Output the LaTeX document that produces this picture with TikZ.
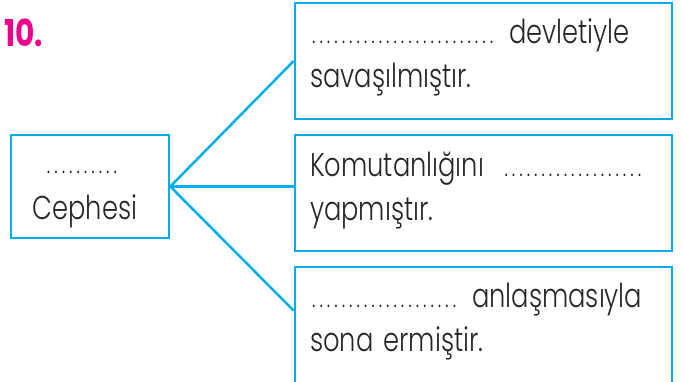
\documentclass[tikz,border=0pt]{standalone}
\usepackage{fontspec}
\setmainfont{Poppins Light}[FakeStretch=0.78]
\newfontfamily\numfont{Poppins}[FakeStretch=0.8]
\definecolor{boxblue}{RGB}{0,174,239}
\definecolor{numpink}{RGB}{236,0,140}
\newcommand\blankdots[1]{{\fontsize{24}{24}\selectfont\leaders\hbox to 7.4pt{\hss.\hss}\hskip #1pt\kern0pt}}
\tikzset{
  frame/.style={draw=boxblue, line width=2.6pt, rectangle, inner sep=0pt},
  link/.style={draw=boxblue, line width=2.5pt},
  txt/.style={anchor=base west, inner sep=0pt, font=\fontsize{33}{33}\selectfont, text=black!85},
}
\begin{document}
\begin{tikzpicture}[x=1pt,y=1pt]
\clip (0,0) rectangle (683,382);
\useasboundingbox (0,0) rectangle (683,382);
\node[anchor=base west, inner sep=0pt, text=numpink, font=\numfont\bfseries\fontsize{37}{37}\selectfont] (num) at (4,335) {10.};
\node[frame, minimum width=158pt, minimum height=103pt] (left) at (90,195.5) {};
\node[frame, minimum width=377pt, minimum height=116pt] (top) at (483.5,321) {};
\node[frame, minimum width=377pt, minimum height=116pt] (mid) at (483.5,189) {};
\node[frame, minimum width=377pt, minimum height=130pt] (bot) at (483.5,50) {};
\draw[link] (left.east) -- (top.west);
\draw[link] (left.east) -- (left.east -| mid.west);
\draw[link] (left.east) -- ([yshift=-45pt]bot.north west);
\node[txt, anchor=base] (ld) at (85,208) {\blankdots{80}};
\node[txt, anchor=base] (lc) at (85,162) {Cephesi};
\node[txt] (t1) at (310,338) {\blankdots{185}\hspace{14pt}devletiyle};
\node[txt] (t2) at (310,294) {savaşılmıştır.};
\node[txt] (m1) at (310,205) {Komutanlığını\hspace{14pt}\blankdots{148}};
\node[txt] (m2) at (310,161) {yapmıştır.};
\node[txt] (b1) at (310,74) {\blankdots{148}\hspace{14pt}anlaşmasıyla};
\node[txt] (b2) at (310,30) {sona\hspace{10pt}ermiştir.};
\end{tikzpicture}
\end{document}
